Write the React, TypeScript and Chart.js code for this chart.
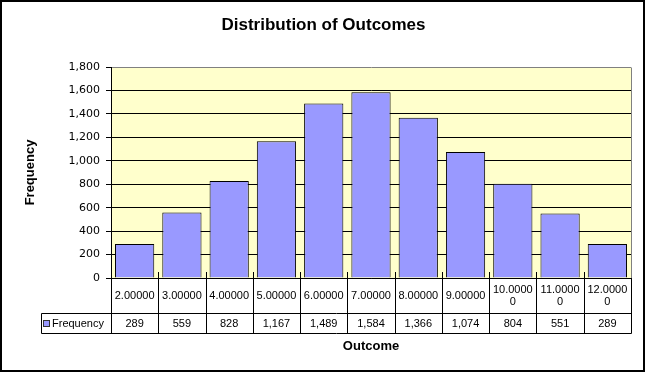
import React, { useEffect, useRef } from "react";
import { Chart, registerables } from "chart.js";

Chart.register(...registerables);

const chartTitle = "Distribution of Outcomes";
const xAxisTitle = "Outcome";
const yAxisTitle = "Frequency";
const seriesName = "Frequency";
const categories = [
  "2.00000", "3.00000", "4.00000", "5.00000", "6.00000", "7.00000",
  "8.00000", "9.00000", "10.00000", "11.00000", "12.00000",
];
const frequencies = [289, 559, 828, 1167, 1489, 1584, 1366, 1074, 804, 551, 289];
const yMin = 0;
const yMax = 1800;
const yStep = 200;

const W = 647;
const H = 374;
const fmt = (v: number) => v.toLocaleString("en-US");

function wrapText(ctx: CanvasRenderingContext2D, text: string, maxW: number): string[] {
  if (ctx.measureText(text).width <= maxW) return [text];
  const lines: string[] = [];
  let cur = "";
  for (const ch of text) {
    if (ctx.measureText(cur + ch).width > maxW && cur) {
      lines.push(cur);
      cur = ch;
    } else cur += ch;
  }
  if (cur) lines.push(cur);
  return lines;
}

export default function App() {
  const ref = useRef<HTMLCanvasElement>(null);
  useEffect(() => {
    document.body.style.margin = "0";
    const canvas = ref.current!;
    const decor = {
      id: "decor",
      beforeDraw(chart: any) {
        const { ctx, chartArea: a } = chart;
        ctx.save();
        ctx.fillStyle = "#ffffff";
        ctx.fillRect(0, 0, W, H);
        ctx.fillStyle = "#FFFFCC";
        ctx.fillRect(a.left, a.top, a.right - a.left, a.bottom - a.top);
        ctx.restore();
      },
      afterDraw(chart: any) {
        const { ctx, chartArea: a } = chart;
        const xs = chart.scales.x;
        const n = categories.length;
        const px = (v: number) => Math.round(v) + 0.5;
        ctx.save();
        ctx.lineWidth = 1;
        // plot border right (gray)
        ctx.strokeStyle = "#808080";
        ctx.beginPath();
        ctx.moveTo(px(a.right), px(a.top));
        ctx.lineTo(px(a.right), px(a.bottom));
        ctx.stroke();

        const r0 = a.bottom;
        const r1 = r0 + 35;
        const r2 = r1 + 20;
        const headLeft = 41;
        ctx.strokeStyle = "#000";
        ctx.beginPath();
        ctx.moveTo(px(a.left), px(r0));
        ctx.lineTo(px(a.right), px(r0));
        ctx.moveTo(px(headLeft), px(r1));
        ctx.lineTo(px(a.right), px(r1));
        ctx.moveTo(px(headLeft), px(r2));
        ctx.lineTo(px(a.right), px(r2));
        ctx.moveTo(px(headLeft), px(r1));
        ctx.lineTo(px(headLeft), px(r2));
        for (let i = 0; i <= n; i++) {
          const x = px(xs.getPixelForValue(i - 0.5));
          const top = i === 0 || i === n ? r0 : r0 - 6;
          ctx.moveTo(x, top);
          ctx.lineTo(x, px(r2));
        }
        ctx.stroke();

        // table text
        ctx.fillStyle = "#000";
        ctx.font = "11px 'Liberation Sans', Arial, sans-serif";
        ctx.textAlign = "center";
        ctx.textBaseline = "middle";
        for (let i = 0; i < n; i++) {
          const l = xs.getPixelForValue(i - 0.5);
          const r = xs.getPixelForValue(i + 0.5);
          const cx = (l + r) / 2;
          const lines = wrapText(ctx, categories[i], r - l - 6);
          const lh = 12;
          const cy = (r0 + r1) / 2;
          lines.forEach((ln, k) => {
            ctx.fillText(ln, cx, cy + (k - (lines.length - 1) / 2) * lh);
          });
          ctx.fillText(fmt(frequencies[i]), cx, (r1 + r2) / 2 + 0.5);
        }
        // legend key
        ctx.fillStyle = "#9999FF";
        ctx.fillRect(43, 320, 6, 6);
        ctx.strokeStyle = "#333";
        ctx.strokeRect(43.5, 320.5, 6, 6);
        ctx.fillStyle = "#000";
        ctx.textAlign = "left";
        ctx.fillText(seriesName, 52, (r1 + r2) / 2 + 0.5);

        // titles
        ctx.textAlign = "center";
        ctx.font = "bold 17px 'Liberation Sans', Arial, sans-serif";
        ctx.fillText(chartTitle, W / 2, 25);
        ctx.font = "bold 13px 'Liberation Sans', Arial, sans-serif";
        ctx.fillText(xAxisTitle, (a.left + a.right) / 2, 346);
        ctx.save();
        ctx.translate(30, (a.top + a.bottom) / 2);
        ctx.rotate(-Math.PI / 2);
        ctx.fillText(yAxisTitle, 0, 0);
        ctx.restore();

        // outer border
        ctx.strokeStyle = "#000";
        ctx.lineWidth = 2;
        ctx.strokeRect(1, 1, W - 4, H - 4);
        ctx.restore();
      },
    };

    const chart = new Chart(canvas, {
      type: "bar",
      data: {
        labels: categories,
        datasets: [
          {
            label: seriesName,
            data: frequencies,
            backgroundColor: "#9999FF",
            borderColor: "#000000",
            borderWidth: 1,
            barPercentage: 0.83,
            categoryPercentage: 1,
          },
        ],
      },
      options: {
        responsive: false,
        animation: false,
        devicePixelRatio: 1,
        layout: { padding: { left: 0, top: 67, right: 16, bottom: 96 } },
        plugins: {
          legend: { display: false },
          tooltip: { enabled: false },
          title: { display: false },
        },
        scales: {
          x: { display: false },
          y: {
            min: yMin,
            max: yMax,
            afterFit: (s: any) => {
              s.width = 111;
            },
            ticks: {
              stepSize: yStep,
              autoSkip: false,
              color: "#000",
              padding: 6,
              font: { family: "'DejaVu Sans', sans-serif", size: 11 },
              callback: (v: any) => fmt(Number(v)),
            },
            grid: {
              color: (c: any) => (c.tick && c.tick.value === yMax ? "#808080" : "#000000"),
              tickColor: "#000000",
              tickLength: 5,
              lineWidth: 1,
            },
            border: { color: "#000000", width: 1 },
          },
        },
      },
      plugins: [decor],
    });
    return () => chart.destroy();
  }, []);
  return <canvas ref={ref} width={W} height={H} style={{ display: "block" }} />;
}
